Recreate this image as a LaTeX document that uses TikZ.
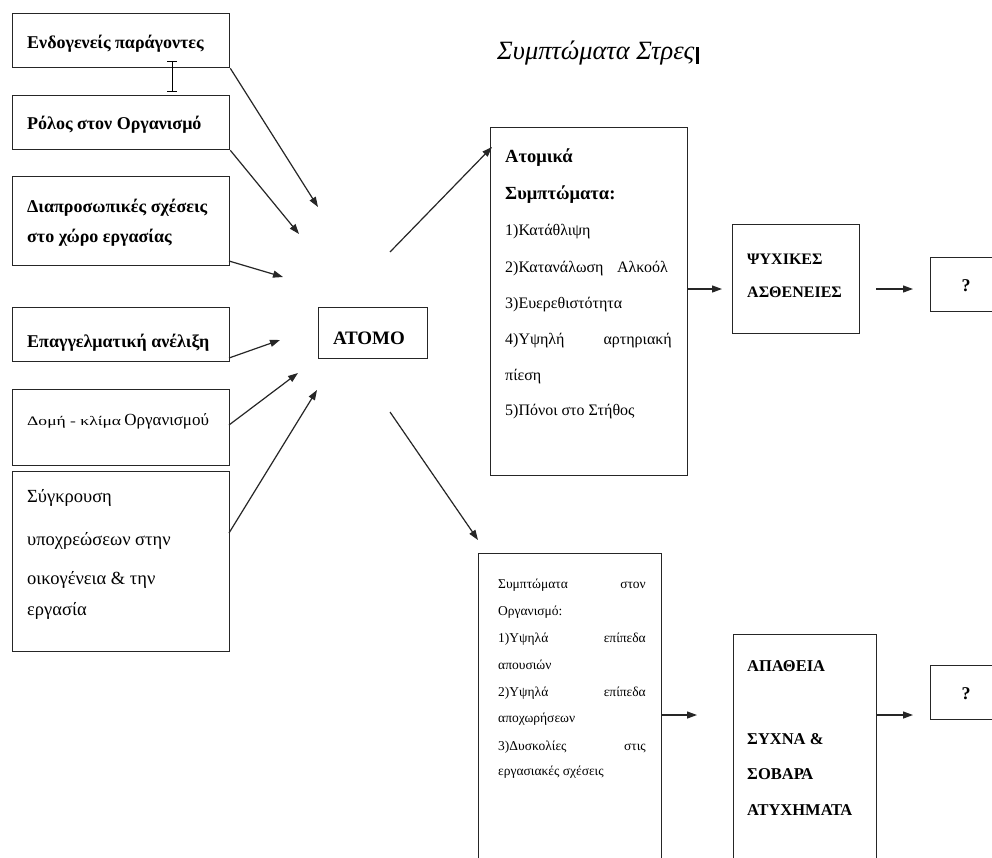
\documentclass[tikz,border=0pt]{standalone}
\usepackage{fontspec}
\setmainfont{Liberation Serif}
\usetikzlibrary{arrows.meta}

\tikzset{
  box/.style={draw=black!85, line width=1.3pt, anchor=north west, inner sep=0pt},
  txt/.style={anchor=west, inner sep=0pt, text height=0.7em, text depth=0.2em},
  txe/.style={anchor=east, inner sep=0pt, text height=0.7em, text depth=0.2em},
  arr/.style={draw=black!85, line width=1.2pt, -{Triangle[length=10pt,width=7pt]}},
  bigb/.style={font=\fontsize{18}{20}\selectfont\bfseries},
  bigr/.style={font=\fontsize{18.5}{20}\selectfont},
  smr/.style={font=\fontsize{16}{18}\selectfont},
  tinyr/.style={font=\fontsize{13.5}{15}\selectfont},
  capb/.style={font=\fontsize{16}{18}\selectfont\bfseries}
}

\newcommand{\boxat}[5]{% name, x1, y1, x2, y2
  \path (#2,#3) coordinate (#1-nw);
  \node[box, minimum width=#4-#2, minimum height=#5-#3] (#1) at (#1-nw) {};
}

\begin{document}
\begin{tikzpicture}[x=1pt,y=-1pt]
\useasboundingbox (0,0) rectangle (992,857);
\clip (0,0) rectangle (992,857);
\fill[white] (0,0) rectangle (992,857);

% left column of stress factors
\boxat{b1}{12}{13}{229}{67}
\boxat{b2}{12}{95}{229}{149}
\boxat{b3}{12}{176}{229}{265}
\boxat{b4}{12}{307}{229}{361}
\boxat{b5}{12}{389}{229}{465}
\boxat{b6}{12}{471}{229}{651}

\node[txt,bigb] (t1) at (27,46) {Ενδογενείς παράγοντες};
\node[txt,bigb] (t2) at (27,127) {Ρόλος στον Οργανισμό};
\node[txt,bigb] (t3a) at (27,210) {Διαπροσωπικές σχέσεις};
\node[txt,bigb] (t3b) at (27,240) {στο χώρο εργασίας};
\node[txt,bigb] (t4) at (27,345) {Επαγγελματική ανέλιξη};
\node[txt] (t5) at (27,423) {\fontsize{13}{15}\selectfont\scalebox{1.35}[1]{Δομή - κλίμα} \fontsize{17}{19}\selectfont Οργανισμού};
\node[txt,bigr] (t6a) at (27,500) {Σύγκρουση};
\node[txt,bigr] (t6b) at (27,543) {υποχρεώσεων στην};
\node[txt,bigr] (t6c) at (27,582) {οικογένεια \& την};
\node[txt,bigr] (t6d) at (27,613) {εργασία};

% text cursor marks
\draw[line width=1pt] (172,61) -- (172,91) (167,61) -- (177,61) (167,91) -- (177,91);

% central node
\boxat{atomo}{318}{307}{427}{358}
\node[txt,font=\fontsize{19}{21}\selectfont\bfseries] (tatomo) at (333,342) {ΑΤΟΜΟ};

% title
\node[txt,font=\fontsize{26.4}{28}\selectfont\itshape] (title) at (497,57) {Συμπτώματα Στρες};
\draw[line width=3pt] (697,47) -- (697,64);

% individual symptoms
\boxat{atomika}{490}{127}{687}{475}
\node[txt,font=\fontsize{18.5}{20}\selectfont\bfseries] (a0) at (505,160) {Ατομικά};
\node[txt,font=\fontsize{18.5}{20}\selectfont\bfseries] (a1) at (505,197) {Συμπτώματα:};
\node[txt,smr] (a2) at (505,233) {1)Κατάθλιψη};
\node[txt,smr] (a3) at (505,270) {2)Κατανάλωση};
\node[txe,smr] (a3r) at (668,270) {Αλκοόλ};
\node[txt,smr] (a4) at (505,306) {3)Ευερεθιστότητα};
\node[txt,smr] (a5) at (505,342) {4)Υψηλή};
\node[txe,smr] (a5r) at (672,342) {αρτηριακή};
\node[txt,smr] (a6) at (505,378) {πίεση};
\node[txt,smr] (a7) at (505,413) {5)Πόνοι στο Στήθος};

\boxat{psy}{732}{224}{859}{333}
\node[txt,capb] (p1) at (747,262) {ΨΥΧΙΚΕΣ};
\node[txt,capb] (p2) at (747,295) {ΑΣΘΕΝΕΙΕΣ};

\boxat{q1}{930}{257}{1000}{311}
\node[anchor=center,inner sep=0pt,bigb] (q1t) at (966,286) {?};

% organisational symptoms
\boxat{org}{478}{553}{661}{880}
\node[txt,tinyr] (o1) at (498,586) {Συμπτώματα};
\node[txe,tinyr] (o1r) at (646,586) {στον};
\node[txt,tinyr] (o2) at (498,613) {Οργανισμό:};
\node[txt,tinyr] (o3) at (498,640) {1)Υψηλά};
\node[txe,tinyr] (o3r) at (646,640) {επίπεδα};
\node[txt,tinyr] (o4) at (498,667) {απουσιών};
\node[txt,tinyr] (o5) at (498,694) {2)Υψηλά};
\node[txe,tinyr] (o5r) at (646,694) {επίπεδα};
\node[txt,tinyr] (o6) at (498,720) {αποχωρήσεων};
\node[txt,tinyr] (o7) at (498,748) {3)Δυσκολίες};
\node[txe,tinyr] (o7r) at (646,748) {στις};
\node[txt,tinyr] (o8) at (498,773) {εργασιακές σχέσεις};

\boxat{apa}{733}{634}{876}{880}
\node[txt,font=\fontsize{16.5}{18}\selectfont\bfseries] (ap1) at (747,669) {ΑΠΑΘΕΙΑ};
\node[txt,font=\fontsize{16.5}{18}\selectfont\bfseries] (ap2) at (747,742) {ΣΥΧΝΑ \&};
\node[txt,font=\fontsize{16.5}{18}\selectfont\bfseries] (ap3) at (747,777) {ΣΟΒΑΡΑ};
\node[txt,font=\fontsize{16.5}{18}\selectfont\bfseries] (ap4) at (747,813) {ΑΤΥΧΗΜΑΤΑ};

\boxat{q2}{930}{665}{1000}{719}
\node[anchor=center,inner sep=0pt,bigb] (q2t) at (966,694) {?};

% free ends of the connectors
\coordinate (e1) at (318,207);
\coordinate (e2) at (299,234);
\coordinate (s3) at (229,261);
\coordinate (e3) at (283,277);
\coordinate (s4) at (229,358);
\coordinate (e4) at (280,340);
\coordinate (s5) at (229,425);
\coordinate (e5) at (298,373);
\coordinate (s6) at (229,533);
\coordinate (e6) at (317,390);
\coordinate (s7) at (390,252);
\coordinate (e7) at (492,147);
\coordinate (s8) at (390,412);
\coordinate (e8) at (478,540);
\coordinate (s9) at (687,289);
\coordinate (e9) at (722,289);
\coordinate (s10) at (876,289);
\coordinate (e10) at (913,289);
\coordinate (s11) at (661,715);
\coordinate (e11) at (697,715);
\coordinate (s12) at (876,715);
\coordinate (e12) at (913,715);

\draw[arr] (b1.south east) -- (e1);
\draw[arr] (b2.south east) -- (e2);
\draw[arr] (s3) -- (e3);
\draw[arr] (s4) -- (e4);
\draw[arr] (s5) -- (e5);
\draw[arr] (s6) -- (e6);
\draw[arr] (s7) -- (e7);
\draw[arr] (s8) -- (e8);
\draw[arr] (s9) -- (e9);
\draw[arr] (s10) -- (e10);
\draw[arr] (s11) -- (e11);
\draw[arr] (s12) -- (e12);
\end{tikzpicture}
\end{document}
